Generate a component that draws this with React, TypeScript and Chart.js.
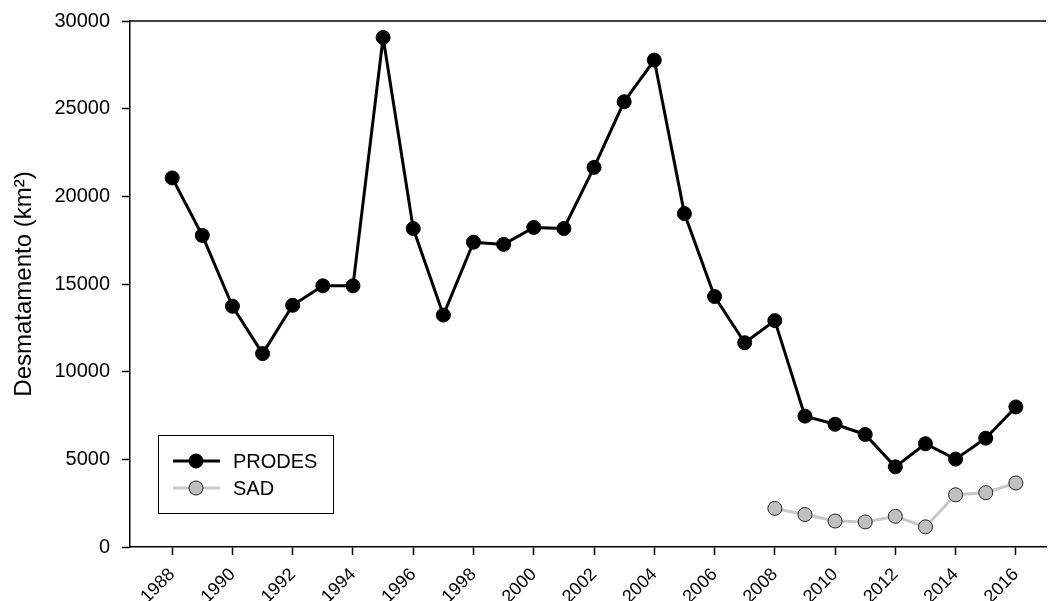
import React, { useEffect, useRef } from "react";
import { Chart, registerables } from "chart.js";

Chart.register(...registerables);

const prodesYears = [1988, 1989, 1990, 1991, 1992, 1993, 1994, 1995, 1996, 1997, 1998, 1999, 2000, 2001, 2002, 2003, 2004, 2005, 2006, 2007, 2008, 2009, 2010, 2011, 2012, 2013, 2014, 2015, 2016];
const prodesValues = [21050, 17770, 13730, 11030, 13786, 14896, 14896, 29059, 18161, 13227, 17383, 17259, 18226, 18165, 21651, 25396, 27772, 19014, 14286, 11651, 12911, 7464, 7000, 6418, 4571, 5891, 5012, 6207, 7989];
const sadYears = [2008, 2009, 2010, 2011, 2012, 2013, 2014, 2015, 2016];
const sadValues = [2200, 1850, 1480, 1430, 1750, 1150, 2980, 3100, 3650];
const xTickLabels = [1988, 1990, 1992, 1994, 1996, 1998, 2000, 2002, 2004, 2006, 2008, 2010, 2012, 2014, 2016];
const yTickLabels = [0, 5000, 10000, 15000, 20000, 25000, 30000];
const seriesNames = ["PRODES", "SAD"];
const yTitle = "Desmatamento (km²)";

const FONT = "'Liberation Sans', Arial, sans-serif";

const frameAndLegend = {
  id: "frameAndLegend",
  afterDraw(chart: any) {
    const ctx = chart.ctx;
    const a = chart.chartArea;
    ctx.save();
    // top frame line
    ctx.strokeStyle = "#000";
    ctx.lineWidth = 1.5;
    ctx.beginPath();
    ctx.moveTo(a.left, a.top);
    ctx.lineTo(a.right, a.top);
    ctx.stroke();

    // legend box
    const bx = 158, by = 435, bw = 175, bh = 78;
    ctx.lineWidth = 1;
    ctx.strokeStyle = "#000";
    ctx.fillStyle = "#fff";
    ctx.fillRect(bx + 0.5, by + 0.5, bw, bh);
    ctx.strokeRect(bx + 0.5, by + 0.5, bw, bh);
    const rows = [461, 488];
    chart.data.datasets.forEach((ds: any, i: number) => {
      const y = rows[i];
      ctx.strokeStyle = ds.borderColor;
      ctx.lineWidth = ds.borderWidth;
      ctx.beginPath();
      ctx.moveTo(173, y);
      ctx.lineTo(220, y);
      ctx.stroke();
      ctx.beginPath();
      ctx.arc(196, y, ds.pointRadius, 0, Math.PI * 2);
      ctx.fillStyle = ds.pointBackgroundColor;
      ctx.fill();
      ctx.lineWidth = ds.pointBorderWidth;
      ctx.strokeStyle = ds.pointBorderColor;
      ctx.stroke();
      ctx.fillStyle = "#000";
      ctx.font = `20px ${FONT}`;
      ctx.textBaseline = "middle";
      ctx.textAlign = "left";
      ctx.fillText(ds.label, 233, y + 1);
    });
    ctx.restore();
  },
};

export default function App() {
  const ref = useRef<HTMLCanvasElement | null>(null);
  useEffect(() => {
    if (!ref.current) return;
    const chart = new Chart(ref.current, {
      type: "line",
      data: {
        datasets: [
          {
            label: seriesNames[0],
            data: prodesYears.map((x, i) => ({ x, y: prodesValues[i] })),
            borderColor: "#000",
            borderWidth: 3,
            borderJoinStyle: "round",
            pointRadius: 7,
            pointBackgroundColor: "#000",
            pointBorderColor: "#000",
            pointBorderWidth: 1,
            tension: 0,
          },
          {
            label: seriesNames[1],
            data: sadYears.map((x, i) => ({ x, y: sadValues[i] })),
            borderColor: "#c8c8c8",
            borderWidth: 3,
            borderJoinStyle: "round",
            pointRadius: 7,
            pointBackgroundColor: "#c0c0c0",
            pointBorderColor: "#222",
            pointBorderWidth: 1,
            tension: 0,
          },
        ],
      },
      options: {
        animation: false,
        responsive: false,
        maintainAspectRatio: false,
        layout: { padding: { top: 21, right: 0, left: 0, bottom: 0 } },
        plugins: { legend: { display: false }, tooltip: { enabled: false } },
        scales: {
          x: {
            type: "linear",
            min: 1986.6,
            max: 2017,
            afterBuildTicks: (s: any) => {
              s.ticks = xTickLabels.map((v) => ({ value: v }));
            },
            afterFit: (s: any) => {
              s.height = 54;
              s.paddingLeft = 0;
              s.paddingRight = 0;
            },
            grid: { display: true, drawOnChartArea: false, drawTicks: true, tickLength: 8, tickColor: "#000", tickWidth: 1.5 },
            border: { display: true, color: "#000", width: 1.5 },
            ticks: {
              color: "#000",
              font: { family: FONT, size: 18 },
              maxRotation: 45,
              minRotation: 45,
              padding: 9,
              autoSkip: false,
              callback: (v: any) => String(v),
            },
          },
          y: {
            type: "linear",
            min: 0,
            max: 30000,
            afterBuildTicks: (s: any) => {
              s.ticks = yTickLabels.map((v) => ({ value: v }));
            },
            afterFit: (s: any) => {
              s.width = 130;
              s.paddingTop = 0;
              s.paddingBottom = 0;
            },
            grid: { display: true, drawOnChartArea: false, drawTicks: true, tickLength: 8, tickColor: "#000", tickWidth: 1.5 },
            border: { display: true, color: "#000", width: 1.5 },
            ticks: {
              color: "#000",
              font: { family: FONT, size: 20 },
              padding: 12,
              callback: (v: any) => String(v),
            },
            title: {
              display: true,
              text: yTitle,
              color: "#000",
              font: { family: FONT, size: 24 },
              padding: { top: 10, bottom: 0 },
            },
          },
        },
      },
      plugins: [frameAndLegend],
    });
    return () => chart.destroy();
  }, []);
  return (
    <div style={{ position: "fixed", left: 0, top: 0, width: 1054, height: 601, background: "#fff" }}>
      <canvas ref={ref} width={1054} height={601} style={{ width: 1054, height: 601 }} />
    </div>
  );
}
